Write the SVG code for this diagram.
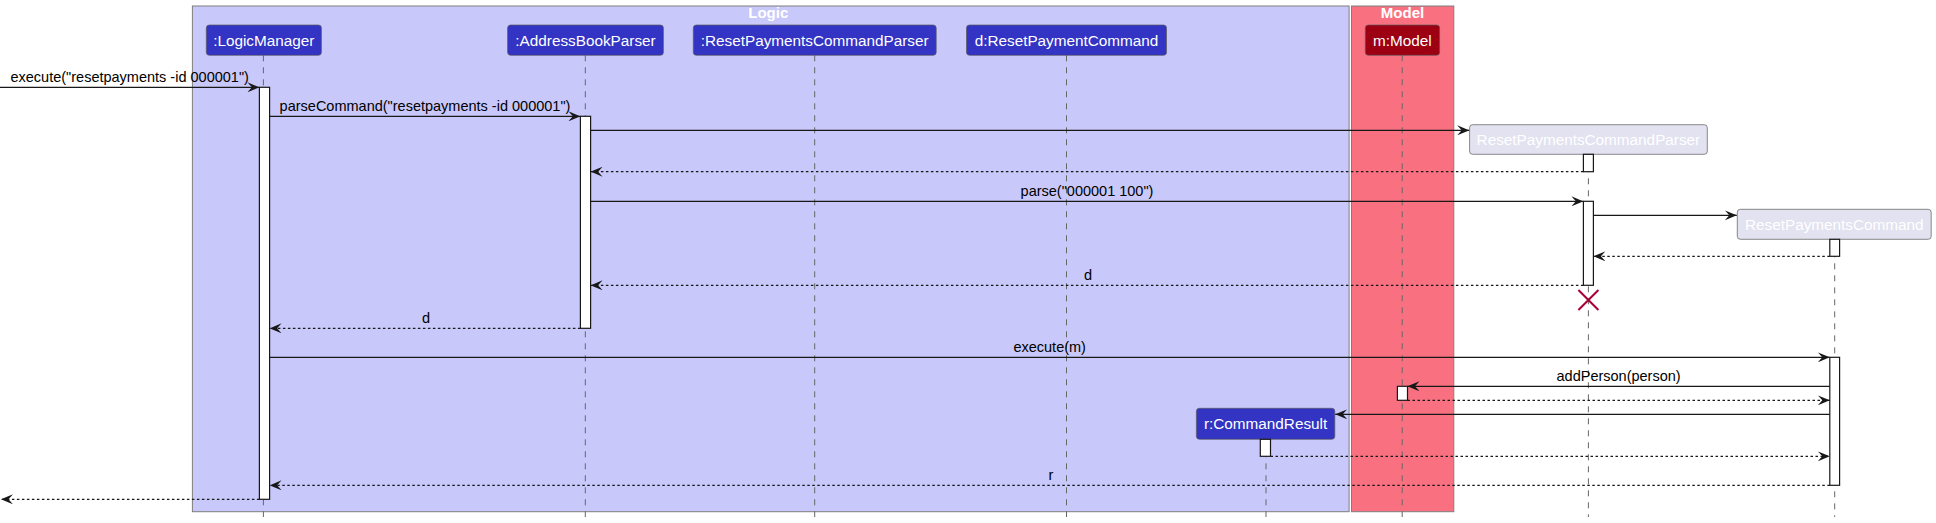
<svg xmlns="http://www.w3.org/2000/svg" width="1936" height="523" viewBox="0 0 1936 523">
<defs>
<style>
.grp{stroke:#7f7f7f;stroke-width:1}
.gt{font-family:"Liberation Sans",Arial,sans-serif;font-size:15px;font-weight:bold;fill:#ffffff;text-anchor:middle}
.pb{stroke:#5a5a5a;stroke-width:0.7}
.pt{font-family:"Liberation Sans",Arial,sans-serif;font-size:15.3px;fill:#ffffff;text-anchor:middle}
.life{stroke:#666666;stroke-width:1;stroke-dasharray:6,6;fill:none}
.act{fill:#ffffff;stroke:#181818;stroke-width:1.2}
.msg{stroke:#181818;stroke-width:1.2;fill:none}
.ret{stroke:#181818;stroke-width:1.2;fill:none;stroke-dasharray:2.5,2.5}
.ml{font-family:"Liberation Sans",Arial,sans-serif;font-size:14.5px;fill:#000000;text-anchor:middle}
</style>
<marker id="ah" viewBox="0 0 12 10" refX="12" refY="5" markerWidth="12" markerHeight="10" markerUnits="userSpaceOnUse" orient="auto">
<path d="M0,0 L12,5 L0,10 L4.5,5 Z" fill="#181818"/>
</marker>
</defs>
<rect width="1936" height="523" fill="#ffffff"/>
<g id="box-logic">
<rect class="grp" x="192.4" y="6" width="1156.7" height="505.7" fill="#C8C8FA"/>
<text class="gt" x="768.3" y="18">Logic</text>
</g>
<g id="box-model">
<rect class="grp" x="1351.5" y="6" width="102.3" height="505.7" fill="#F97181"/>
<text class="gt" x="1402.5" y="18">Model</text>
</g>
<g id="lifelines">
<line class="life" x1="263.4" y1="55.3" x2="263.4" y2="517"/>
<line class="life" x1="585.3" y1="55.3" x2="585.3" y2="517"/>
<line class="life" x1="814.7" y1="55.3" x2="814.7" y2="517"/>
<line class="life" x1="1066.5" y1="55.3" x2="1066.5" y2="517"/>
<line class="life" x1="1402.2" y1="55.3" x2="1402.2" y2="517"/>
<line class="life" x1="1588.4" y1="154.3" x2="1588.4" y2="517"/>
<line class="life" x1="1834.7" y1="239.3" x2="1834.7" y2="517"/>
<line class="life" x1="1266" y1="439.3" x2="1266" y2="517"/>
</g>
<g id="p-logicmanager">
<rect class="pb" x="206.3" y="25" width="115.1" height="30.3" rx="3" fill="#3333C4"/>
<text class="pt" x="263.8" y="45.5">:LogicManager</text>
</g>
<g id="p-addressbookparser">
<rect class="pb" x="507.6" y="25" width="155.8" height="30.3" rx="3" fill="#3333C4"/>
<text class="pt" x="585.5" y="45.5">:AddressBookParser</text>
</g>
<g id="p-resetpaymentscommandparser">
<rect class="pb" x="693.3" y="25" width="242.9" height="30.3" rx="3" fill="#3333C4"/>
<text class="pt" x="814.7" y="45.5">:ResetPaymentsCommandParser</text>
</g>
<g id="p-resetpaymentcommand">
<rect class="pb" x="966.5" y="25" width="200" height="30.3" rx="3" fill="#3333C4"/>
<text class="pt" x="1066.5" y="45.5">d:ResetPaymentCommand</text>
</g>
<g id="p-model">
<rect class="pb" x="1365.3" y="25" width="74.3" height="30.3" rx="3" fill="#9D0012"/>
<text class="pt" x="1402.4" y="45.5">m:Model</text>
</g>
<g id="p-rpcp-created">
<rect class="pb" x="1469.6" y="124.7" width="237.7" height="29.6" rx="3" fill="#E2E2F0"/>
<text class="pt" x="1588.4" y="145.3">ResetPaymentsCommandParser</text>
</g>
<g id="p-rpc-created">
<rect class="pb" x="1737.3" y="209.3" width="193.9" height="30" rx="3" fill="#E2E2F0"/>
<text class="pt" x="1834.3" y="230">ResetPaymentsCommand</text>
</g>
<g id="p-commandresult">
<rect class="pb" x="1196.4" y="408.3" width="138.4" height="31" rx="3" fill="#3333C4"/>
<text class="pt" x="1265.6" y="429.3">r:CommandResult</text>
</g>
<g id="activations">
<rect class="act" x="259.4" y="87.3" width="10.2" height="412"/>
<rect class="act" x="580.4" y="116.3" width="10.2" height="212"/>
<rect class="act" x="1583.4" y="154.3" width="10" height="17.4"/>
<rect class="act" x="1583.4" y="201.3" width="10" height="84"/>
<rect class="act" x="1829.8" y="239.3" width="9.8" height="17"/>
<rect class="act" x="1829.8" y="357.3" width="9.8" height="128"/>
<rect class="act" x="1397.4" y="386.3" width="10.1" height="14"/>
<rect class="act" x="1260.3" y="439.3" width="10.2" height="17"/>
</g>
<g id="connectors">
<line class="msg" x1="0" y1="87.3" x2="259.4" y2="87.3" marker-end="url(#ah)"/>
<line class="msg" x1="269.6" y1="116.3" x2="580.4" y2="116.3" marker-end="url(#ah)"/>
<line class="msg" x1="590.6" y1="130.3" x2="1469.2" y2="130.3" marker-end="url(#ah)"/>
<line class="ret" x1="1583.4" y1="171.7" x2="590.6" y2="171.7" marker-end="url(#ah)"/>
<line class="msg" x1="590.6" y1="201.3" x2="1583.4" y2="201.3" marker-end="url(#ah)"/>
<line class="msg" x1="1593.4" y1="215.3" x2="1736.8" y2="215.3" marker-end="url(#ah)"/>
<line class="ret" x1="1829.8" y1="256.3" x2="1593.4" y2="256.3" marker-end="url(#ah)"/>
<line class="ret" x1="1583.4" y1="285.3" x2="590.6" y2="285.3" marker-end="url(#ah)"/>
<line class="ret" x1="580.4" y1="328.3" x2="269.6" y2="328.3" marker-end="url(#ah)"/>
<line class="msg" x1="269.6" y1="357.3" x2="1829.8" y2="357.3" marker-end="url(#ah)"/>
<line class="msg" x1="1829.8" y1="386.3" x2="1407.5" y2="386.3" marker-end="url(#ah)"/>
<line class="ret" x1="1407.5" y1="400.3" x2="1829.8" y2="400.3" marker-end="url(#ah)"/>
<line class="msg" x1="1829.8" y1="414.3" x2="1335.2" y2="414.3" marker-end="url(#ah)"/>
<line class="ret" x1="1270.5" y1="456.3" x2="1829.8" y2="456.3" marker-end="url(#ah)"/>
<line class="ret" x1="1829.8" y1="485.3" x2="269.6" y2="485.3" marker-end="url(#ah)"/>
<line class="ret" x1="259.4" y1="499.3" x2="1" y2="499.3" marker-end="url(#ah)"/>
<g id="destroy" stroke="#A80036" stroke-width="2">
<line x1="1578.4" y1="290" x2="1598.4" y2="310"/>
<line x1="1598.4" y1="290" x2="1578.4" y2="310"/>
</g>
</g>
<g id="labels">
<text class="ml" x="129.7" y="82">execute("resetpayments -id 000001")</text>
<text class="ml" x="425" y="111">parseCommand("resetpayments -id 000001")</text>
<text class="ml" x="1087" y="196">parse("000001 100")</text>
<text class="ml" x="1088" y="280">d</text>
<text class="ml" x="426" y="323">d</text>
<text class="ml" x="1049.7" y="352">execute(m)</text>
<text class="ml" x="1618.6" y="381">addPerson(person)</text>
<text class="ml" x="1051" y="480">r</text>
</g>
</svg>
